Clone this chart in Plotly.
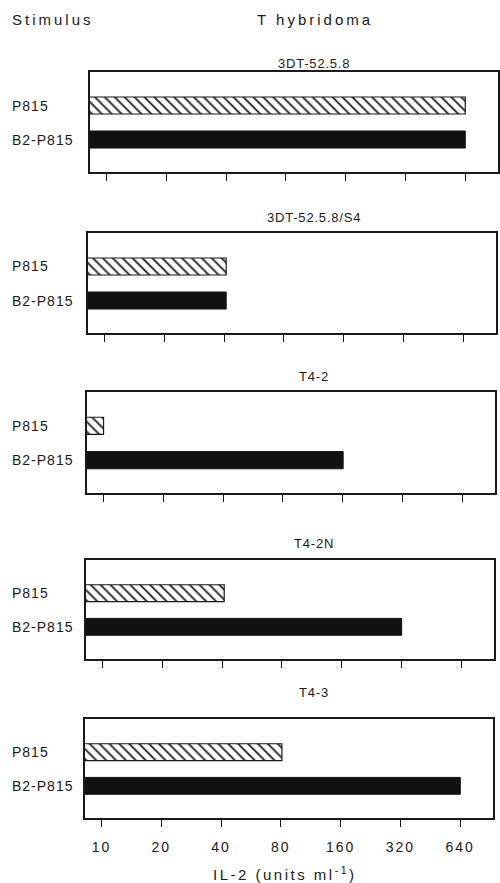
import math
import plotly.graph_objects as go

# ---- data ----
hybridomas = ["3DT-52.5.8", "3DT-52.5.8/S4", "T4-2", "T4-2N", "T4-3"]
stimuli = ["P815", "B2-P815"]
p815_values = [640, 40, 9, 40, 80]
b2_p815_values = [640, 40, 160, 320, 640]
tick_values = [10, 20, 40, 80, 160, 320, 640]
tick_labels = ["10", "20", "40", "80", "160", "320", "640"]

# ---- layout (pixel geometry of the 500x883 page) ----
W, H = 500, 883
box_top = [72, 233, 392, 560, 719]
box_bot = [172, 333, 493, 659, 818]
box_left = [90, 88, 87, 86, 85]
box_w = 410
title_y = [63, 217, 376, 543, 692]
x_range = [math.log10(8.22), math.log10(937)]
FONT = "Liberation Sans, Arial, sans-serif"
INK = "#1a1a1a"


def sp(text, px):
    return f"<span style='letter-spacing:{px}px'>{text}</span>"


fig = go.Figure()
annotations = []
layout = dict(
    width=W, height=H, margin=dict(l=0, r=0, t=0, b=0),
    paper_bgcolor="white", plot_bgcolor="white", showlegend=False,
    font=dict(family=FONT, color=INK, size=14),
)

for i, name in enumerate(hybridomas):
    n = i + 1
    xa = "x" if n == 1 else f"x{n}"
    ya = "y" if n == 1 else f"y{n}"
    fig.add_trace(go.Bar(
        y=[stimuli[0]], x=[p815_values[i]], base=1, orientation="h",
        width=0.5, xaxis=xa, yaxis=ya,
        marker=dict(color="white", line=dict(color=INK, width=1.2),
                    pattern=dict(shape="\\", fgcolor=INK, bgcolor="white",
                                 size=7, solidity=0.25, fillmode="replace")),
    ))
    fig.add_trace(go.Bar(
        y=[stimuli[1]], x=[b2_p815_values[i]], base=1, orientation="h",
        width=0.5, xaxis=xa, yaxis=ya,
        marker=dict(color="#111111", line=dict(color="#111111", width=1)),
    ))
    x0 = box_left[i] / W
    x1 = min(1.0, (box_left[i] + box_w) / W)
    y0 = 1 - box_bot[i] / H
    y1 = 1 - box_top[i] / H
    last = (i == len(hybridomas) - 1)
    layout["xaxis" if n == 1 else f"xaxis{n}"] = dict(
        type="log", range=x_range, domain=[x0, x1], anchor=ya,
        tickvals=tick_values,
        ticktext=[sp(t, 2) for t in tick_labels],
        ticks="outside", ticklen=7, tickwidth=1.3, tickcolor=INK,
        showline=True, linecolor=INK, linewidth=1.5, mirror=True,
        showgrid=False, zeroline=False, showticklabels=last,
        tickfont=dict(size=14, family=FONT, color=INK),
        ticklabelstandoff=8,
    )
    layout["yaxis" if n == 1 else f"yaxis{n}"] = dict(
        type="category", categoryorder="array",
        categoryarray=[stimuli[1], stimuli[0]],
        range=[-0.955, 1.985], domain=[y0, y1], anchor=xa,
        showline=True, linecolor=INK, linewidth=1.5, mirror=True,
        showgrid=False, zeroline=False, showticklabels=False, ticks="",
    )
    for s in stimuli:
        annotations.append(dict(
            text=sp(s, 1), x=10 / W, xref="paper", xanchor="left",
            y=s, yref=ya, yanchor="middle", showarrow=False,
            font=dict(size=14, family=FONT, color=INK),
        ))
    annotations.append(dict(
        text=sp(name, 0.8), x=315 / W, xref="paper", xanchor="center",
        y=1 - title_y[i] / H, yref="paper", yanchor="middle", showarrow=False,
        font=dict(size=13, family=FONT, color=INK),
    ))

annotations.append(dict(
    text=sp("Stimulus", 3), x=10 / W, xref="paper", xanchor="left",
    y=1 - 20 / H, yref="paper", yanchor="middle", showarrow=False,
    font=dict(size=15, family=FONT, color=INK),
))
annotations.append(dict(
    text=sp("T hybridoma", 3), x=316 / W, xref="paper", xanchor="center",
    y=1 - 20 / H, yref="paper", yanchor="middle", showarrow=False,
    font=dict(size=15, family=FONT, color=INK),
))
annotations.append(dict(
    text=sp("IL-2 (units ml<sup>-1</sup>)", 2.5), x=286 / W, xref="paper",
    xanchor="center", y=1 - 873 / H, yref="paper", yanchor="middle",
    showarrow=False, font=dict(size=15, family=FONT, color=INK),
))

layout["annotations"] = annotations
fig.update_layout(**layout)
fig.write_html(
    "out.html",
    config={"displayModeBar": False},
    post_script="document.body.style.margin='0';document.body.style.padding='0';"
                "document.body.style.overflow='hidden';",
)
